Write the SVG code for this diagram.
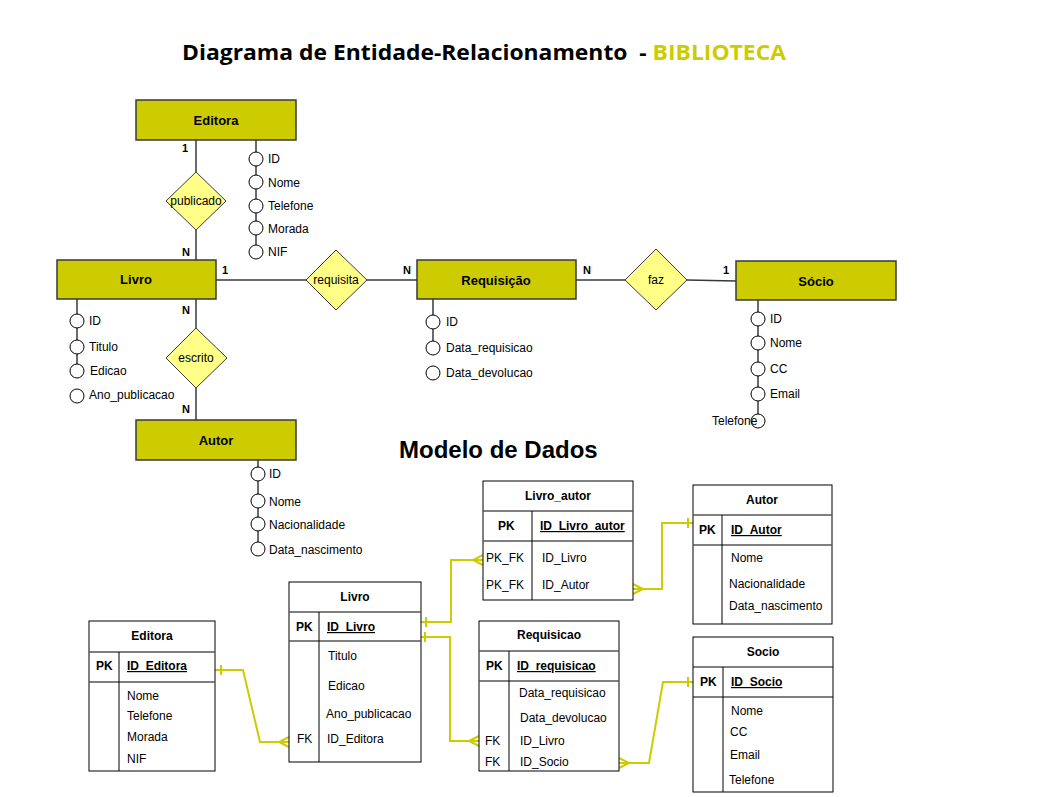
<svg xmlns="http://www.w3.org/2000/svg" width="1040" height="797" viewBox="0 0 1040 797">
<style>
text{font-family:"Liberation Sans",Arial,sans-serif;fill:#000}
.ent{fill:#CCCC00;stroke:#36393d;stroke-width:1.5}
.rel{fill:#FFFF88;stroke:#36393d;stroke-width:1}
.el{font-size:13px;font-weight:bold;text-anchor:middle}
.rl{font-size:12px;text-anchor:middle}
.card{font-size:11px;font-weight:bold}
.att{fill:#fff;stroke:#000;stroke-width:1}
.al{font-size:12px}
.ln{stroke:#36393d;stroke-width:1.5;fill:none}
.tb{fill:#fff;stroke:#000;stroke-width:1}
.sep{stroke:#555;stroke-width:1.5}
.div{stroke:#000;stroke-width:1}
.th{font-size:12px;font-weight:bold;text-anchor:middle}
.thn{font-size:12px;text-anchor:middle}
.pk{font-size:12px;font-weight:bold}
.pkn{font-size:12px;font-weight:bold;text-decoration:underline}
.tr{font-size:12px}
.fk{stroke:#CCCC00;stroke-width:2;fill:none}
</style>

<text x="182" y="60" xml:space="preserve" textLength="604" lengthAdjust="spacingAndGlyphs" style="font-family:'Open Sans','Liberation Sans',sans-serif;font-size:22px;font-weight:bold;white-space:pre">Diagrama de Entidade-Relacionamento  - <tspan style="fill:#CCCC00">BIBLIOTECA</tspan></text>

<g id="er-connectors">
<line class="ln" x1="196" y1="140" x2="196" y2="172"/>
<line class="ln" x1="196" y1="230" x2="196" y2="260"/>
<line class="ln" x1="196" y1="299" x2="196" y2="328"/>
<line class="ln" x1="196" y1="388" x2="196" y2="420"/>
<line class="ln" x1="216" y1="280" x2="306" y2="280"/>
<line class="ln" x1="367" y1="280" x2="417" y2="280"/>
<line class="ln" x1="576" y1="280" x2="625" y2="280"/>
<line class="ln" x1="687" y1="280" x2="736" y2="281"/>
<line class="ln" x1="256" y1="140" x2="256" y2="245"/>
<line class="ln" x1="77" y1="299" x2="77" y2="364"/>
<line class="ln" x1="258" y1="460" x2="258" y2="542"/>
<line class="ln" x1="433" y1="299" x2="433" y2="341"/>
<line class="ln" x1="758" y1="300" x2="758" y2="414"/>
</g>

<g id="er-editora">
<rect class="ent" x="136" y="100" width="160" height="40"/>
<text class="el" x="216" y="125">Editora</text>
<circle class="att" cx="256" cy="159" r="7"/><text class="al" x="268" y="163">ID</text>
<circle class="att" cx="256" cy="182" r="7"/><text class="al" x="268" y="187">Nome</text>
<circle class="att" cx="256" cy="206" r="7"/><text class="al" x="268" y="210">Telefone</text>
<circle class="att" cx="256" cy="228" r="7"/><text class="al" x="268" y="233">Morada</text>
<circle class="att" cx="256" cy="252" r="7"/><text class="al" x="268" y="256">NIF</text>
</g>

<g id="er-publicado">
<polygon class="rel" points="196,172 226,201 196,230 166,201"/>
<text class="rl" x="196" y="205">publicado</text>
</g>

<g id="er-livro">
<rect class="ent" x="57" y="260" width="159" height="39"/>
<text class="el" x="136" y="284">Livro</text>
<circle class="att" cx="77" cy="321" r="7"/><text class="al" x="89" y="325">ID</text>
<circle class="att" cx="77" cy="347" r="7"/><text class="al" x="89" y="351">Titulo</text>
<circle class="att" cx="77" cy="371" r="7"/><text class="al" x="90" y="375">Edicao</text>
<circle class="att" cx="77" cy="396" r="7"/><text class="al" x="89" y="399">Ano_publicacao</text>
</g>

<g id="er-escrito">
<polygon class="rel" points="196,328 227,358 196,388 166,358"/>
<text class="rl" x="196" y="362">escrito</text>
</g>

<g id="er-autor">
<rect class="ent" x="136" y="420" width="160" height="40"/>
<text class="el" x="216" y="445">Autor</text>
<circle class="att" cx="258" cy="474" r="7"/><text class="al" x="269" y="478">ID</text>
<circle class="att" cx="258" cy="501" r="7"/><text class="al" x="269" y="506">Nome</text>
<circle class="att" cx="258" cy="524" r="7"/><text class="al" x="269" y="529">Nacionalidade</text>
<circle class="att" cx="258" cy="549" r="7"/><text class="al" x="269" y="554">Data_nascimento</text>
</g>

<g id="er-requisita">
<polygon class="rel" points="336,250 367,280 336,310 306,280"/>
<text class="rl" x="336" y="284">requisita</text>
</g>

<g id="er-requisicao">
<rect class="ent" x="417" y="260" width="159" height="39"/>
<text class="el" x="496" y="285">Requisição</text>
<circle class="att" cx="433" cy="322" r="7"/><text class="al" x="446" y="326">ID</text>
<circle class="att" cx="433" cy="348" r="7"/><text class="al" x="446" y="352">Data_requisicao</text>
<circle class="att" cx="433" cy="373" r="7"/><text class="al" x="446" y="377">Data_devolucao</text>
</g>

<g id="er-faz">
<polygon class="rel" points="656,249 687,280 656,310 625,280"/>
<text class="rl" x="656" y="284">faz</text>
</g>

<g id="er-socio">
<rect class="ent" x="736" y="261" width="160" height="39"/>
<text class="el" x="816" y="286">Sócio</text>
<circle class="att" cx="758" cy="319" r="7"/><text class="al" x="770" y="323">ID</text>
<circle class="att" cx="758" cy="343" r="7"/><text class="al" x="770" y="347">Nome</text>
<circle class="att" cx="758" cy="369" r="7"/><text class="al" x="770" y="373">CC</text>
<circle class="att" cx="758" cy="394" r="7"/><text class="al" x="770" y="398">Email</text>
<circle class="att" cx="758" cy="421" r="7"/><text class="al" x="712" y="425">Telefone</text>
</g>

<g id="er-cardinalities">
<text class="card" x="182" y="152">1</text>
<text class="card" x="182" y="256">N</text>
<text class="card" x="222" y="274">1</text>
<text class="card" x="403" y="274">N</text>
<text class="card" x="583" y="274">N</text>
<text class="card" x="723" y="274">1</text>
<text class="card" x="182" y="314">N</text>
<text class="card" x="182" y="413">N</text>
</g>

<text x="399" y="458" style="font-size:24px;font-weight:bold">Modelo de Dados</text>

<g id="fk-connectors">
<path class="fk" d="M215,670 L243,670 L260,742 L289,742"/>
<line class="fk" x1="221" y1="665" x2="221" y2="675"/>
<path class="fk" d="M289,737 L279,742 L289,747"/>
<path class="fk" d="M421,622 L451,622 L451,560 L483,560"/>
<line class="fk" x1="426" y1="617" x2="426" y2="627"/>
<path class="fk" d="M483,555 L473,560 L483,565"/>
<path class="fk" d="M421,637 L450,637 L450,741 L479,741"/>
<line class="fk" x1="425" y1="632" x2="425" y2="642"/>
<path class="fk" d="M479,736 L469,741 L479,746"/>
<path class="fk" d="M633,589 L662,589 L662,523 L693,523"/>
<line class="fk" x1="688" y1="518" x2="688" y2="528"/>
<path class="fk" d="M633,584 L643,589 L633,594"/>
<path class="fk" d="M619,763 L649,763 L663,682 L693,682"/>
<line class="fk" x1="688" y1="677" x2="688" y2="687"/>
<path class="fk" d="M619,758 L629,763 L619,768"/>
</g>

<g id="t-livro-autor">
<rect class="tb" x="483" y="481" width="150" height="119"/>
<line class="sep" x1="483" y1="511" x2="633" y2="511"/>
<line class="sep" x1="483" y1="541" x2="633" y2="541"/>
<line class="div" x1="532" y1="511" x2="532" y2="600"/>
<text class="thn" x="558" y="500" style="font-weight:bold;font-size:12px">Livro_autor</text>
<text class="pk" x="498" y="530">PK</text>
<text class="pkn" x="540" y="530">ID_Livro_autor</text>
<text class="tr" x="486" y="562">PK_FK</text><text class="tr" x="542" y="562">ID_Livro</text>
<text class="tr" x="486" y="589">PK_FK</text><text class="tr" x="542" y="589">ID_Autor</text>
</g>

<g id="t-autor">
<rect class="tb" x="693" y="485" width="139" height="139"/>
<line class="sep" x1="693" y1="515" x2="832" y2="515"/>
<line class="sep" x1="693" y1="545" x2="832" y2="545"/>
<line class="div" x1="722" y1="515" x2="722" y2="624"/>
<text class="th" x="762" y="504">Autor</text>
<text class="pk" x="699" y="534">PK</text>
<text class="pkn" x="731" y="534">ID_Autor</text>
<text class="tr" x="731" y="562">Nome</text>
<text class="tr" x="729" y="588">Nacionalidade</text>
<text class="tr" x="729" y="610">Data_nascimento</text>
</g>

<g id="t-editora">
<rect class="tb" x="89" y="621" width="126" height="150"/>
<line class="sep" x1="89" y1="652" x2="215" y2="652"/>
<line class="sep" x1="89" y1="682" x2="215" y2="682"/>
<line class="div" x1="119" y1="652" x2="119" y2="771"/>
<text class="th" x="152" y="640">Editora</text>
<text class="pk" x="96" y="670">PK</text>
<text class="pkn" x="127" y="670">ID_Editora</text>
<text class="tr" x="127" y="700">Nome</text>
<text class="tr" x="127" y="720">Telefone</text>
<text class="tr" x="127" y="741">Morada</text>
<text class="tr" x="127" y="763">NIF</text>
</g>

<g id="t-livro">
<rect class="tb" x="289" y="582" width="132" height="180"/>
<line class="sep" x1="289" y1="612" x2="421" y2="612"/>
<line class="sep" x1="289" y1="641" x2="421" y2="641"/>
<line class="div" x1="319" y1="612" x2="319" y2="762"/>
<text class="th" x="355" y="601">Livro</text>
<text class="pk" x="296" y="631">PK</text>
<text class="pkn" x="327" y="631">ID_Livro</text>
<text class="tr" x="328" y="660">Titulo</text>
<text class="tr" x="328" y="690">Edicao</text>
<text class="tr" x="326" y="718">Ano_publicacao</text>
<text class="tr" x="297" y="743">FK</text>
<text class="tr" x="327" y="743">ID_Editora</text>
</g>

<g id="t-requisicao">
<rect class="tb" x="479" y="621" width="140" height="150"/>
<line class="sep" x1="479" y1="651" x2="619" y2="651"/>
<line class="sep" x1="479" y1="681" x2="619" y2="681"/>
<line class="div" x1="509" y1="651" x2="509" y2="771"/>
<text class="th" x="549" y="639">Requisicao</text>
<text class="pk" x="486" y="670">PK</text>
<text class="pkn" x="517" y="670">ID_requisicao</text>
<text class="tr" x="519" y="697">Data_requisicao</text>
<text class="tr" x="520" y="722">Data_devolucao</text>
<text class="tr" x="485" y="745">FK</text><text class="tr" x="520" y="745">ID_Livro</text>
<text class="tr" x="485" y="766">FK</text><text class="tr" x="520" y="766">ID_Socio</text>
</g>

<g id="t-socio">
<rect class="tb" x="693" y="637" width="140" height="155"/>
<line class="div" x1="693" y1="667" x2="833" y2="667"/>
<line class="div" x1="693" y1="697" x2="833" y2="697"/>
<line class="div" x1="723" y1="667" x2="723" y2="792"/>
<text class="th" x="763" y="656">Socio</text>
<text class="pk" x="700" y="686">PK</text>
<text class="pkn" x="731" y="686">ID_Socio</text>
<text class="tr" x="731" y="715">Nome</text>
<text class="tr" x="730" y="736">CC</text>
<text class="tr" x="730" y="759">Email</text>
<text class="tr" x="729" y="784">Telefone</text>
</g>
</svg>
